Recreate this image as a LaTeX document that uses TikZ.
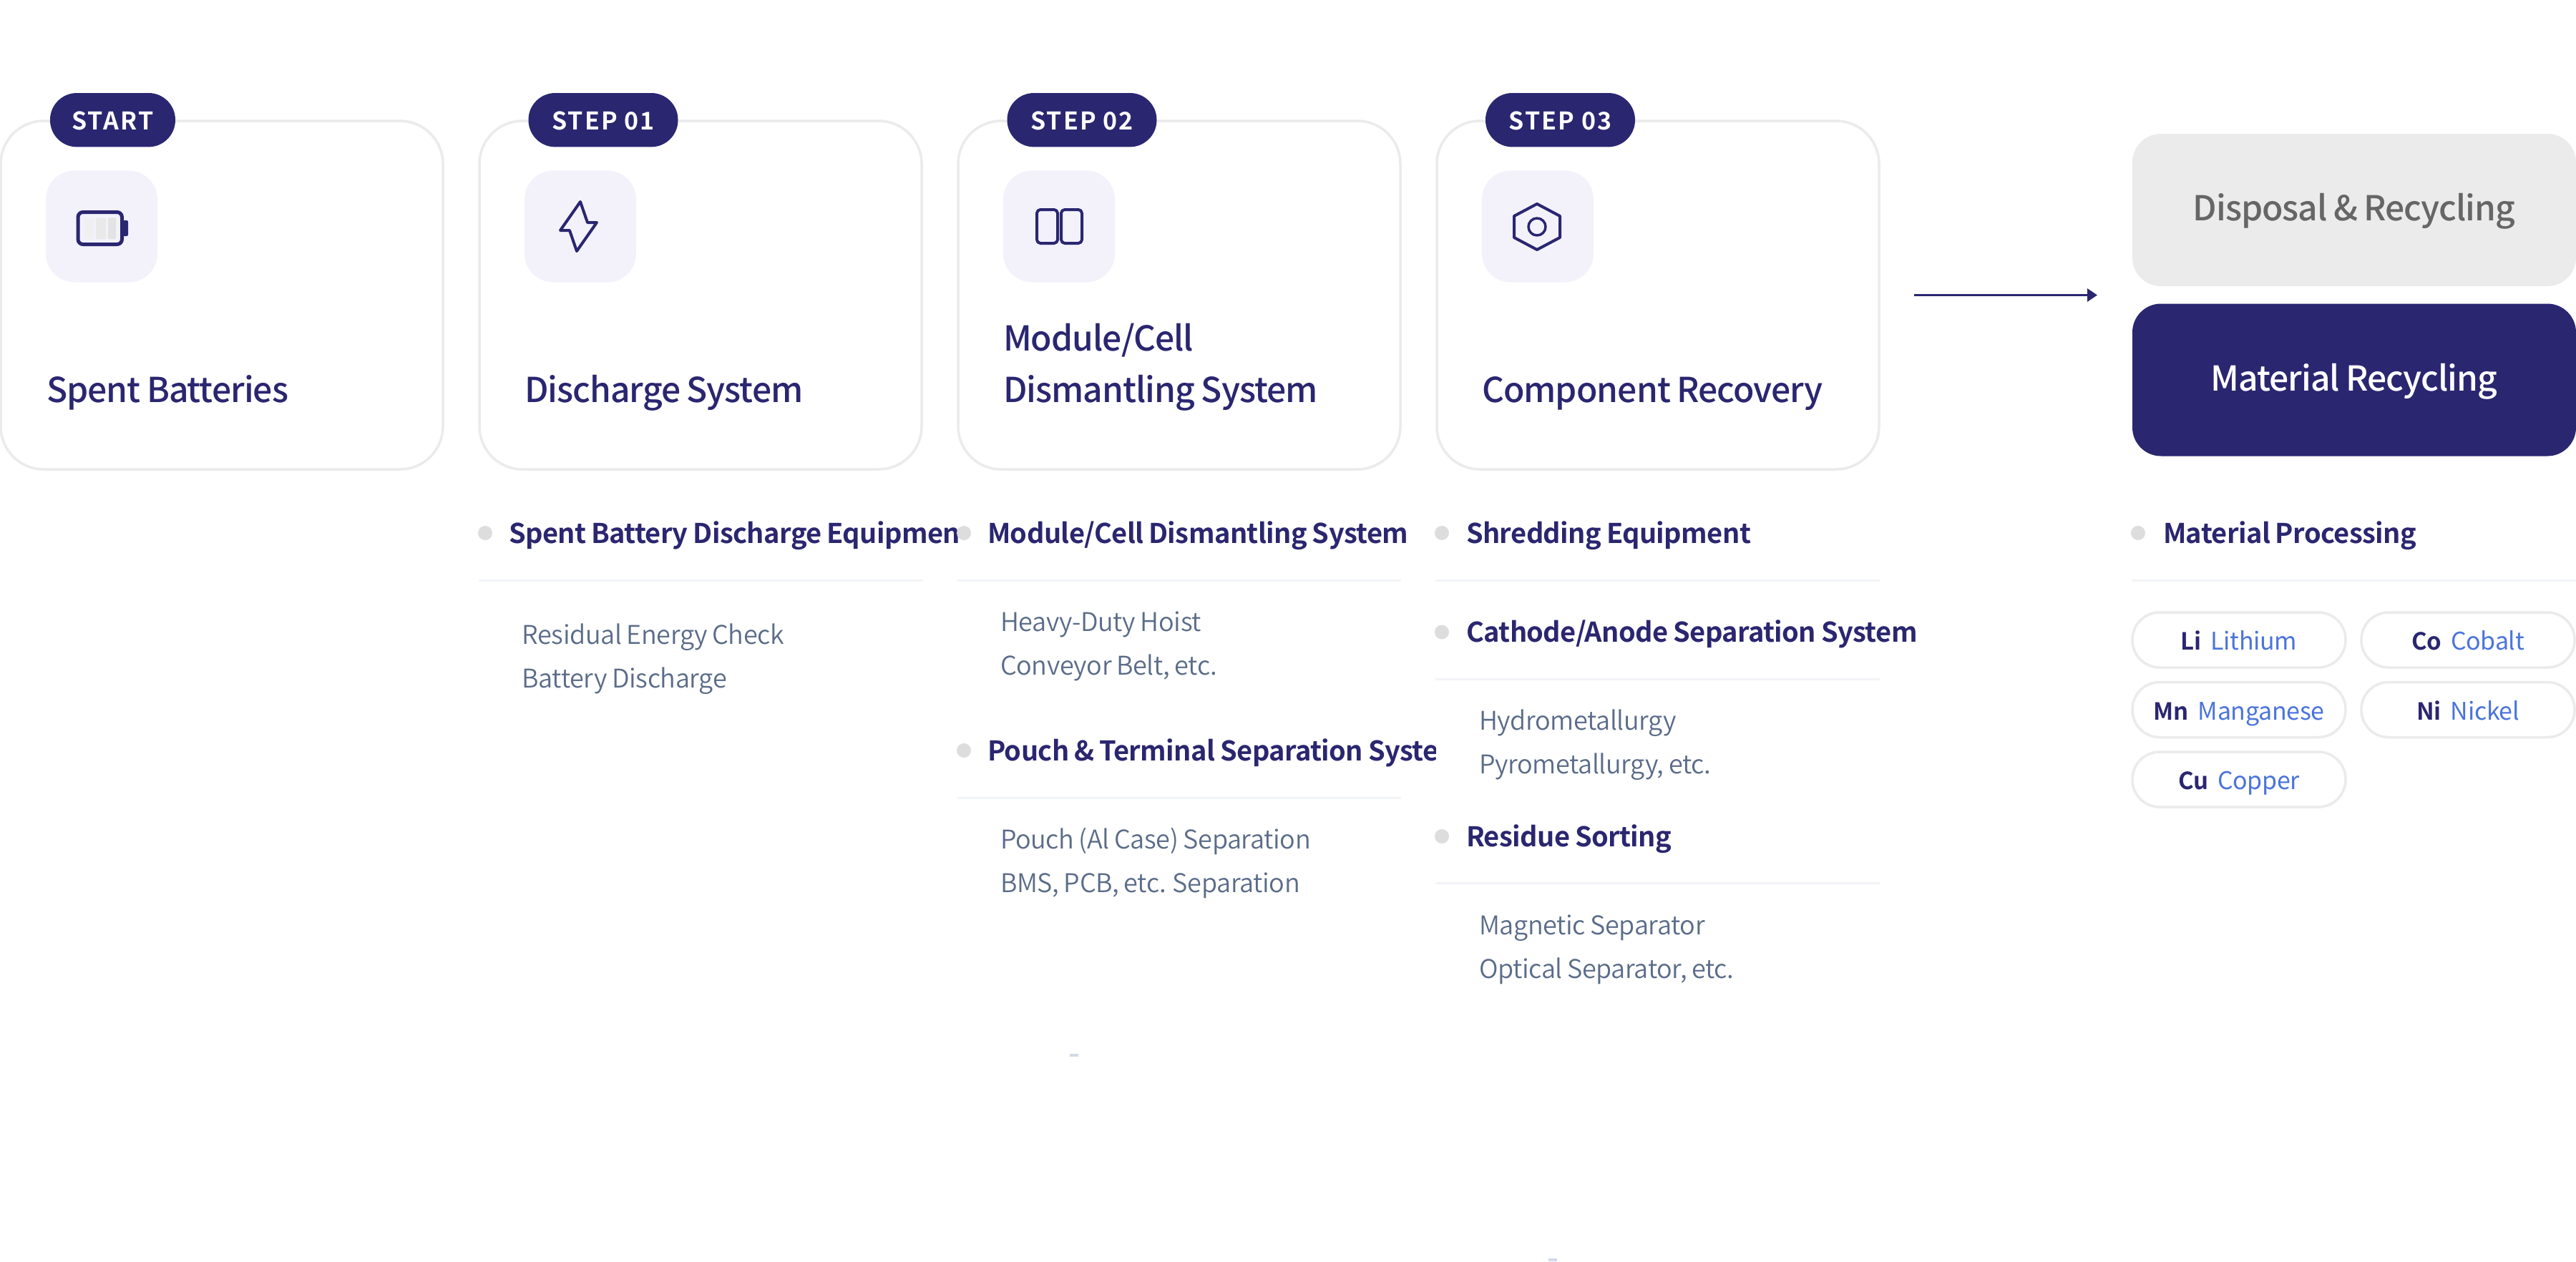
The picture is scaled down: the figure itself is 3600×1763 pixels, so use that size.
\documentclass[tikz,border=0pt]{standalone}
\usepackage{fontspec}
\usetikzlibrary{arrows.meta}
\setmainfont{Noto Sans CJK KR}
\newfontfamily\medf[LetterSpace=-2,WordSpace=0.85]{Noto Sans CJK KR Medium}
\newfontfamily\lightf[LetterSpace=-1,WordSpace=0.85]{Noto Sans CJK KR DemiLight}
\newfontfamily\boldf[LetterSpace=-1.5,WordSpace=0.85]{Noto Sans CJK KR Bold}
\newfontfamily\badgef[LetterSpace=6]{Noto Sans CJK KR Bold}
\newfontfamily\pillf[LetterSpace=-1]{Noto Sans CJK KR}
\newfontfamily\pillb{Noto Sans CJK KR Bold}
\definecolor{navy}{HTML}{2B2670}
\definecolor{cardline}{HTML}{EBEBEB}
\definecolor{iconbg}{HTML}{F3F2FB}
\definecolor{rule}{HTML}{F2F4F8}
\definecolor{subtext}{HTML}{5B6C89}
\definecolor{bluetext}{HTML}{4B74DB}
\definecolor{dotc}{HTML}{DDDDDD}
\definecolor{greytext}{HTML}{666666}
\definecolor{speck}{HTML}{D3DAE6}
\tikzset{
  x=0.5pt,y=-0.5pt,
  every node/.style={inner sep=0pt,outer sep=0pt},
  cardbox/.style={draw=cardline,line width=1.75pt,fill=white,rounded corners=30pt,minimum width=309pt,minimum height=243.5pt,anchor=north west},
  badgebox/.style={fill=navy,text=white,rounded corners=18.7pt,minimum height=37.7pt,font=\badgef\fontsize{17}{18}\selectfont,text height=13.9pt,text depth=0pt},
  iconbox/.style={fill=iconbg,rounded corners=20pt,minimum width=78pt,minimum height=78pt,anchor=north west},
  icon/.style={draw=navy,line width=2pt,line join=round},
  titletext/.style={anchor=base west,text=navy,font=\medf\fontsize{24}{30}\selectfont},
  headtext/.style={anchor=base west,text=navy,font=\boldf\fontsize{19}{24}\selectfont},
  subitem/.style={anchor=base west,text=subtext,font=\lightf\fontsize{18}{24}\selectfont},
  dot/.style={circle,fill=dotc,minimum size=10pt},
  hair/.style={draw=rule,line width=1.5pt},
  bigbox/.style={rounded corners=20pt,minimum width=310pt,minimum height=106.5pt,anchor=north west,font=\medf\fontsize{24}{30}\selectfont,text height=15pt,text depth=0pt},
  pill/.style={draw=cardline,line width=1.75pt,fill=white,rounded corners=19pt,minimum width=149pt,minimum height=38.5pt,anchor=north west,font=\pillf\fontsize{17}{20}\selectfont,text height=14pt,text depth=0pt},
}
\newcommand{\sym}[2]{{\pillb\fontsize{16.5}{20}\selectfont\textcolor{navy}{#1}}\hspace{6.5pt}\textcolor{bluetext}{#2}}
\begin{document}
\begin{tikzpicture}
\useasboundingbox (0,0) rectangle (3600,1763);
\fill[white] (0,0) rectangle (3600,1763);

% cards
\node[cardbox] (c1) at (1,169) {};
\node[cardbox] (c2) at (670,169) {};
\node[cardbox] (c3) at (1339,169) {};
\node[cardbox] (c4) at (2008,169) {};

% badges
\node[badgebox,minimum width=87.5pt] (b1) at (157.5,167.7) {START};
\node[badgebox,minimum width=104.5pt] (b2) at (843,167.7) {STEP 01};
\node[badgebox,minimum width=104.5pt] (b3) at (1512,167.7) {STEP 02};
\node[badgebox,minimum width=104.5pt] (b4) at (2180.5,167.7) {STEP 03};

% icon tiles
\node[iconbox] (i1) at (64,238.5) {};
\node[iconbox] (i2) at (733,238.5) {};
\node[iconbox] (i3) at (1402,238.5) {};
\node[iconbox] (i4) at (2071,238.5) {};

% battery icon
\fill[rounded corners=1pt,fill=black!6] (117,304.5) rectangle (130.5,334);
\fill[rounded corners=1pt,fill=black!8.5] (134,304.5) rectangle (148,334);
\fill[rounded corners=1pt,fill=black!11] (151,304.5) rectangle (162,334);
\draw[icon,line width=2.5pt,rounded corners=3.5pt] (109,296.5) rectangle (170.5,341.5);
\fill[navy,rounded corners=1pt] (172,308) rectangle (179,330);
% bolt icon
\draw[icon] (811,282) -- (783,322) -- (796,322) -- (806,351) -- (834,311) -- (821,311) -- cycle;
% split icon
\draw[icon,rounded corners=2.5pt] (1449,293) rectangle (1478,340);
\draw[icon,rounded corners=2.5pt] (1483,293) rectangle (1512,340);
% nut icon
\draw[icon] (2148,285) -- (2180,302) -- (2180,332) -- (2148,349) -- (2116,332) -- (2116,302) -- cycle;
\draw[icon,line width=1.75pt] (2148,317) circle (12);

% card titles
\node[titletext] (t1) at (65,562) {Spent Batteries};
\node[titletext] (t2) at (733,562) {Discharge System};
\node[titletext] (t3a) at (1402,490) {Module/Cell};
\node[titletext] (t3b) at (1402,562) {Dismantling System};
\node[titletext] (t4) at (2071,562) {Component Recovery};

% arrow and outcome boxes
\coordinate (arrfrom) at (2674.5,412.5);
\coordinate (arrto) at (2931,412.5);
\draw[navy,line width=1.5pt,-{Triangle[length=7pt,width=9pt]}] (arrfrom) -- (arrto);
\node[bigbox,fill=cardline,text=greytext] (dis) at (2980,187) {Disposal \& Recycling};
\node[bigbox,fill=navy,text=white] (mat) at (2980,424.5) {Material Recycling};

% column 2
\begin{scope}
\clip (669,700) rectangle (1338.5,800);
\node[headtext] (h21) at (711,759) {Spent Battery Discharge Equipment};
\end{scope}
\node[dot] (d21) at (678,745) {};
\draw[hair] (669,811) -- (1289,811);
\node[subitem] (s21) at (729.5,900) {Residual Energy Check};
\node[subitem] (s22) at (729.5,961) {Battery Discharge};

% column 3
\node[dot] (d31) at (1347,745) {};
\node[headtext] (h31) at (1380,759) {Module/Cell Dismantling System};
\draw[hair] (1338,811) -- (1958,811);
\node[subitem] (s31) at (1398,882) {Heavy-Duty Hoist};
\node[subitem] (s32) at (1398,943) {Conveyor Belt, etc.};
\begin{scope}
\clip (1338,1000) rectangle (2006.5,1100);
\node[headtext] (h32) at (1380,1063.5) {Pouch \& Terminal Separation System};
\end{scope}
\node[dot] (d32) at (1347,1049) {};
\draw[hair] (1338,1115) -- (1958,1115);
\node[subitem] (s33) at (1398,1186) {Pouch (Al Case) Separation};
\node[subitem] (s34) at (1398,1247) {BMS, PCB, etc. Separation};

% column 4
\node[dot] (d41) at (2015,745) {};
\node[headtext] (h41) at (2049,759) {Shredding Equipment};
\draw[hair] (2006,811) -- (2627,811);
\node[dot] (d42) at (2015,883.5) {};
\node[headtext] (h42) at (2049,897.5) {Cathode/Anode Separation System};
\draw[hair] (2006,949) -- (2627,949);
\node[subitem] (s41) at (2067,1020) {Hydrometallurgy};
\node[subitem] (s42) at (2067,1081) {Pyrometallurgy, etc.};
\node[dot] (d43) at (2015,1169) {};
\node[headtext] (h43) at (2049,1183.5) {Residue Sorting};
\draw[hair] (2006,1234.5) -- (2627,1234.5);
\node[subitem] (s43) at (2067,1306) {Magnetic Separator};
\node[subitem] (s44) at (2067,1367) {Optical Separator, etc.};

% column 5
\node[dot] (d51) at (2988,745) {};
\node[headtext] (h51) at (3023,759) {Material Processing};
\draw[hair] (2980,811) -- (3600,811);
\node[pill] (p1) at (2980,856) {\sym{Li}{Lithium}};
\node[pill] (p2) at (3300,856) {\sym{Co}{Cobalt}};
\node[pill] (p3) at (2980,953.5) {\sym{Mn}{Manganese}};
\node[pill] (p4) at (3300,953.5) {\sym{Ni}{Nickel}};
\node[pill] (p5) at (2980,1051) {\sym{Cu}{Copper}};

% stray marks
\fill[speck] (1495,1473) rectangle (1507,1477);
\fill[speck] (2164,1759) rectangle (2176,1763);
\end{tikzpicture}
\end{document}
